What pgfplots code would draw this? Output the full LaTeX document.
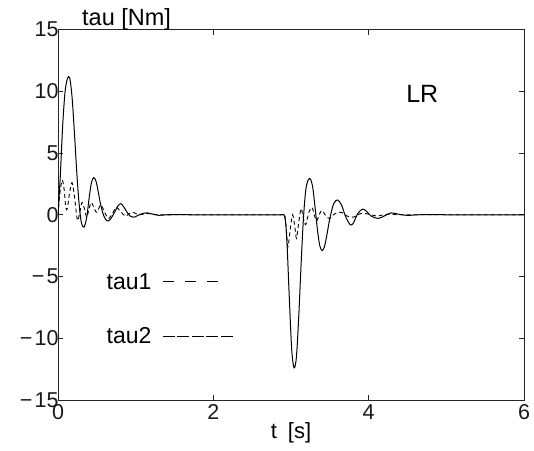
\documentclass[border=0pt]{standalone}
\usepackage{fontspec}
\setmainfont{Liberation Sans}
\usepackage{pgfplots}
\pgfplotsset{compat=1.18}

% joint torques of the two links, LR controller
\pgfplotstableread{
t      tau
0      0
0.025  1.8
0.055  2.8
0.08   2.0
0.10   0.6
0.12   0.5
0.15   1.8
0.18   2.6
0.21   1.6
0.25  -0.45
0.28   0.2
0.31   1.0
0.34   0.5
0.37  -0.2
0.40   0.5
0.43   1.0
0.46   0.6
0.50   0.2
0.55   0.8
0.60   0.2
0.65  -0.3
0.70   0.1
0.75   0.6
0.80   0.3
0.87  -0.1
0.95   0.2
1.05   0.0
1.15   0.1
1.30   0.0
1.60   0.0
2.00   0.0
2.40   0.0
2.80   0.0
2.90   0.0
2.92   0.0
2.94  -1.2
2.96  -2.6
2.99  -1.2
3.02   0.0
3.05  -1.0
3.07  -1.9
3.10  -0.6
3.13   0.5
3.16  -0.3
3.19  -0.8
3.23   0.2
3.27   0.6
3.30   0.0
3.33  -0.5
3.37   0.1
3.40   0.35
3.45  -0.1
3.50  -0.3
3.57   0.1
3.65   0.2
3.72  -0.1
3.80  -0.2
3.90   0.1
4.00   0.05
4.10  -0.1
4.25   0.05
4.40   0.0
4.80   0.0
5.20   0.0
5.60   0.0
6.00   0.0
}\tauone

\pgfplotstableread{
t      tau
0      0
0.03   3.2
0.06   7.2
0.09   9.9
0.12  11.0
0.15  11.1
0.18   9.6
0.21   6.8
0.24   3.6
0.27   1.0
0.30  -0.6
0.335 -1.0
0.37  -0.2
0.40   1.3
0.43   2.6
0.46   3.0
0.49   2.7
0.52   1.8
0.55   0.8
0.59  -0.1
0.63  -0.5
0.67  -0.4
0.72   0.1
0.77   0.7
0.81   0.9
0.85   0.6
0.90   0.1
0.94  -0.15
0.98  -0.2
1.03  -0.05
1.09   0.1
1.15   0.15
1.22   0.05
1.30  -0.05
1.40   0.0
1.70   0.0
2.00   0.0
2.40   0.0
2.80   0.0
2.88   0.0
2.91   0.0
2.93  -0.6
2.95  -2.5
2.98  -7.0
3.01 -11.0
3.04 -12.4
3.07 -11.5
3.10  -8.2
3.13  -4.0
3.16  -0.3
3.19   2.0
3.22   2.8
3.25   2.9
3.28   2.2
3.31   0.6
3.34  -1.2
3.37  -2.5
3.40  -2.9
3.43  -2.6
3.46  -1.7
3.50  -0.3
3.55   0.9
3.60   1.2
3.65   0.8
3.70  -0.1
3.76  -0.8
3.80  -0.7
3.86   0.1
3.92   0.45
3.97   0.3
4.03  -0.1
4.12  -0.3
4.20  -0.1
4.29   0.15
4.38   0.05
4.50  -0.05
4.65   0.0
5.00   0.0
5.40   0.0
5.80   0.0
6.00   0.0
}\tautwo

\begin{document}
\begin{tikzpicture}[x=1pt,y=1pt]
\path (0,0) rectangle (534,450);
\begin{axis}[
  at={(58pt,50pt)}, anchor=south west,
  scale only axis, width=466pt, height=370.5pt,
  xmin=0, xmax=6, ymin=-15, ymax=15,
  xtick={0,2,4,6}, xticklabels={0,2,4,6},
  ytick={-15,-10,-5,0,5,10,15},
  yticklabels={−\kern2pt15,−\kern2pt10,−\kern2pt5,0,5,10,15},
  tick align=inside, major tick length=5pt,
  tick style={black!85, line width=0.8pt},
  axis line style={black!85, line width=0.9pt},
  tick label style={font=\fontsize{21.5}{21.5}\selectfont, text=black!90},
  yticklabel style={xshift=4pt},
  xticklabel style={yshift=-1pt},
  xlabel={t\hspace{11pt}[s]},
  ylabel={tau [Nm]},
  every axis x label/.style={at={(axis description cs:0.5,0)}, anchor=center, yshift=-33pt, font=\fontsize{22}{22}\selectfont},
  every axis y label/.style={at={(axis description cs:0.0515,1)}, anchor=base west, yshift=4pt, inner sep=0pt, font=\fontsize{23.5}{23.5}\selectfont},
  legend plot pos=right,
  legend cell align=left,
  legend style={draw=none, fill=none, at={(axis cs:0.56,-4.4)}, anchor=north west,
    font=\fontsize{23}{23}\selectfont, row sep=33pt, column sep=9pt,
    nodes={inner sep=2pt}},
]
\addplot[black, line width=0.9pt, dash pattern=on 4pt off 3pt, smooth, tension=0.5,
  legend image code/.code={\draw[black, line width=1pt, dash pattern=on 11pt off 11pt] (0pt,0pt) -- (56pt,0pt);}]
  table[x=t, y=tau] {\tauone};
\addlegendentry{tau1}
\addplot[black, line width=1pt, smooth, tension=0.5,
  legend image code/.code={\draw[black, line width=1pt, dash pattern=on 12pt off 2.5pt] (0pt,0pt) -- (70pt,0pt);}]
  table[x=t, y=tau] {\tautwo};
\addlegendentry{tau2}
\node[font=\fontsize{25}{25}\selectfont, text=black] at (axis cs:4.69,9.75) {LR};
\end{axis}
\end{tikzpicture}
\end{document}
